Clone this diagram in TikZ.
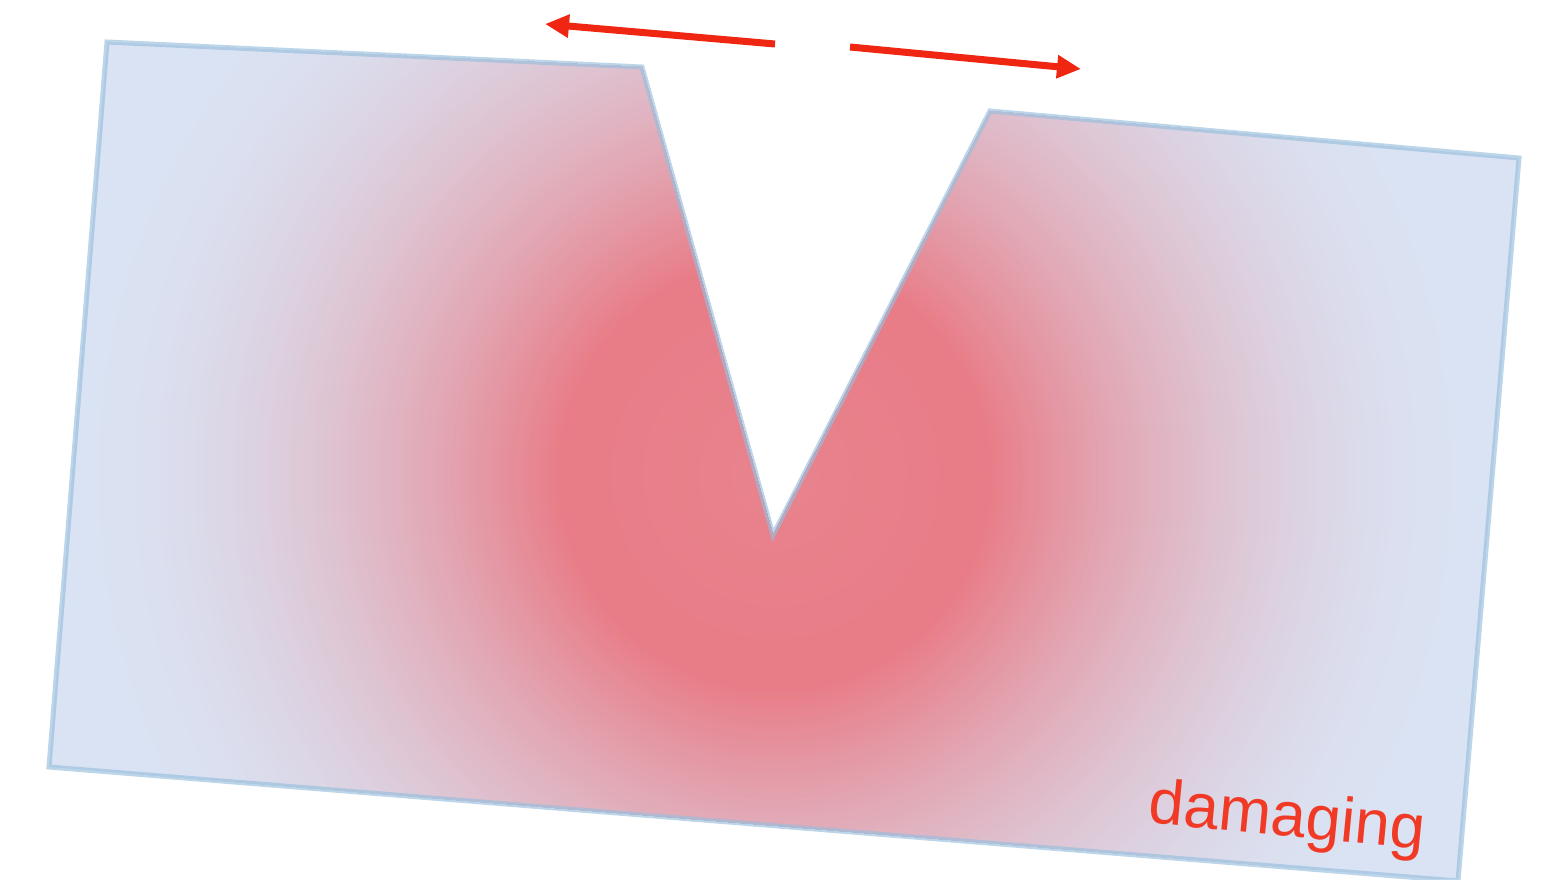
\documentclass[tikz,border=0pt]{standalone}
\usepackage{fontspec}
\setmainfont{Liberation Sans}
\usetikzlibrary{arrows.meta}
\definecolor{cred}{HTML}{E87C87}
\definecolor{cin}{HTML}{E8838D}
\definecolor{cblue}{HTML}{DAE3F3}
\definecolor{edgeblue}{HTML}{98BEDC}
\definecolor{arrowred}{HTML}{EE2612}
\definecolor{textred}{HTML}{F03A26}
\tikzset{
  pushar/.style={draw=arrowred, line width=7pt, -{Triangle[length=24pt,width=22pt]}},
  plateedge/.style={draw=edgeblue, draw opacity=0.65, line width=5pt, line join=miter},
  lbl/.style={text=textred, font=\fontsize{63}{70}\selectfont, inner sep=0pt}
}
\begin{document}
\begin{tikzpicture}[x=1pt,y=-1pt]
\useasboundingbox (0,0) rectangle (1547,879);
\begin{scope}
  \clip (107,42) -- (642,67) -- (773,535) -- (990,111) -- (1519,158) -- (1458,881) -- (49,767) -- cycle;
  \fill[cblue] (0,0) rectangle (1547,879);
  \foreach \r in {720,716,...,216} {
    \pgfmathsetmacro\t{max(0.0001,min(1,1-(\r-215)/490))}
    \pgfmathsetmacro\p{100*(\t^1.8)}
    \fill[cred!\p!cblue] (775,475) circle[radius=\r pt];
  }
  \foreach \r in {212,204,...,8} {
    \pgfmathsetmacro\q{\r/215*100}
    \fill[cred!\q!cin] (775,475) circle[radius=\r pt];
  }
\end{scope}
\path[plateedge] (107,42) -- (642,67) -- (773,535) -- (990,111) -- (1519,158) -- (1458,881) -- (49,767) -- cycle;
\coordinate (l1) at (775,44);
\coordinate (l2) at (545,24);
\coordinate (r1) at (850,47);
\coordinate (r2) at (1081,69);
\draw[pushar] (l1) -- (l2);
\draw[pushar] (r1) -- (r2);
\node[lbl, rotate=-5.5] (dmg) at (1287,820) {damaging};
\end{tikzpicture}
\end{document}
